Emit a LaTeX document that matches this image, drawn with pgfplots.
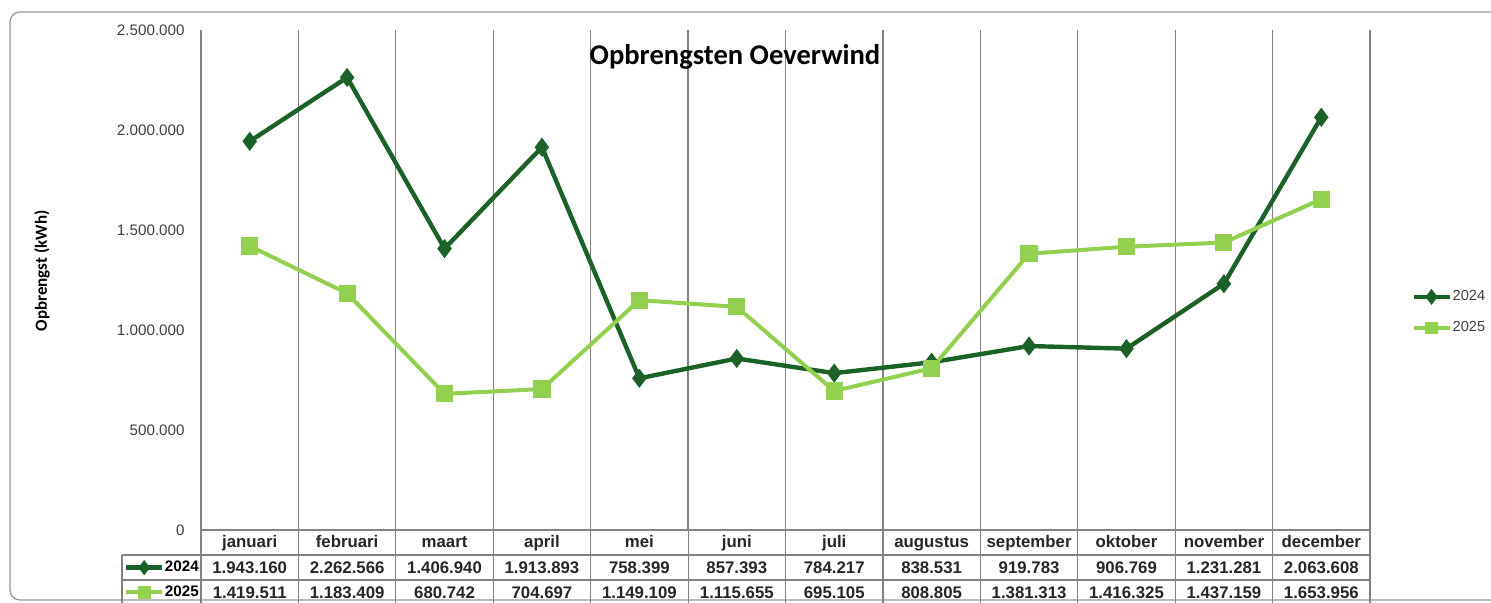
\documentclass[border=0pt]{standalone}
\usepackage{pgfplots}
\pgfplotsset{compat=1.18}
\usepackage{fontspec}
\setmainfont{Liberation Sans}
\newfontfamily\carlito{Carlito}

\definecolor{darkg}{RGB}{28,98,40}
\definecolor{lightg}{RGB}{146,208,80}
\definecolor{gridg}{RGB}{130,130,130}
\definecolor{txt}{RGB}{64,64,64}
\definecolor{framec}{RGB}{150,150,150}

\begin{document}
\begin{tikzpicture}[x=0.5pt,y=0.5pt]
\useasboundingbox (0,0) rectangle (1491,603);
\clip (0,0) rectangle (1491,603);
\draw[framec, line width=0.6pt, rounded corners=5pt] (10,3) rectangle (1530,591);

\begin{axis}[
  at={(100.5pt,36.5pt)}, anchor=south west,
  scale only axis, width=584.5pt, height=250pt,
  xmin=0, xmax=12, ymin=0, ymax=2500000,
  axis line style={draw=none},
  xtick={0,...,12}, xticklabels={},
  xmajorgrids, major grid style={gridg, line width=0.6pt},
  ytick={0,500000,1000000,1500000,2000000,2500000},
  yticklabels={0,500.000,1.000.000,1.500.000,2.000.000,2.500.000},
  scaled y ticks=false,
  major tick length=0pt,
  yticklabel style={font=\fontsize{7.6}{9}\selectfont, text=txt, inner sep=0pt, xshift=-8pt},
  clip=false,
  legend style={at={(1.035,0.435)}, anchor=west, draw=none, fill=none,
    font=\fontsize{7.3}{9}\selectfont, text=txt, inner sep=0pt,
    row sep=9pt, nodes={inner sep=0pt, inner xsep=0.5pt}},
  legend cell align=left,
  legend image code/.code={\draw[mark repeat=2, mark phase=2, #1, mark size=2.2pt] plot coordinates {(0pt,0pt) (9pt,0pt) (18pt,0pt)};},
]
\addplot[darkg, line width=2.2pt, mark=diamond*, mark size=3pt, mark options={solid}] coordinates {
(0.5,1943160) (1.5,2262566) (2.5,1406940) (3.5,1913893) (4.5,758399) (5.5,857393)
(6.5,784217) (7.5,838531) (8.5,919783) (9.5,906769) (10.5,1231281) (11.5,2063608)};
\addlegendentry{2024}
\addplot[lightg, line width=2pt, mark=square*, mark size=3.3pt, mark options={solid}] coordinates {
(0.5,1419511) (1.5,1183409) (2.5,680742) (3.5,704697) (4.5,1149109) (5.5,1115655)
(6.5,695105) (7.5,808805) (8.5,1381313) (9.5,1416325) (10.5,1437159) (11.5,1653956)};
\addlegendentry{2025}
\end{axis}

% small axis that holds the keys of the data table
\begin{axis}[
  at={(61pt,0pt)}, anchor=south west,
  scale only axis, width=39.5pt, height=24pt,
  xmin=0, xmax=1, ymin=0, ymax=1, hide axis,
  legend style={at={(0.02,0.48)}, anchor=west, draw=none, fill=none,
    font=\bfseries\fontsize{7.6}{9}\selectfont, inner sep=0pt,
    row sep=5.5pt, nodes={inner sep=0pt, inner xsep=0.3pt}},
  legend image code/.code={\draw[mark repeat=2, mark phase=2, #1] plot coordinates {(0pt,0pt) (9pt,0pt) (18pt,0pt)};},
]
\addlegendimage{darkg, line width=2.2pt, mark=diamond*, mark size=2pt}
\addlegendentry{2024}
\addlegendimage{lightg, line width=2pt, mark=square*, mark size=2.3pt}
\addlegendentry{2025}
\end{axis}

% data table grid
\foreach \i in {0,...,12} \draw[gridg, line width=0.6pt] ({201+97.42*\i},73) -- ({201+97.42*\i},-5);
\draw[gridg, line width=0.6pt] (201,73) -- (1370,73);
\draw[gridg, line width=0.6pt] (122,48) -- (1370,48);
\draw[gridg, line width=0.6pt] (122,23) -- (1370,23);
\draw[gridg, line width=0.6pt] (122,48) -- (122,-5);

\tikzset{cell/.style={font=\bfseries\fontsize{8.4}{9}\selectfont, text=black!85, anchor=base, inner sep=0pt}}
\foreach \m [count=\i from 0] in {januari,februari,maart,april,mei,juni,juli,augustus,september,oktober,november,december}
  \node[cell] at ({201+97.42*(\i+0.5)},55) {\m};
\foreach \v [count=\i from 0] in {1.943.160,2.262.566,1.406.940,1.913.893,758.399,857.393,784.217,838.531,919.783,906.769,1.231.281,2.063.608}
  \node[cell] at ({201+97.42*(\i+0.5)},29.5) {\v};
\foreach \v [count=\i from 0] in {1.419.511,1.183.409,680.742,704.697,1.149.109,1.115.655,695.105,808.805,1.381.313,1.416.325,1.437.159,1.653.956}
  \node[cell] at ({201+97.42*(\i+0.5)},4.5) {\v};

% title and y label
\node[font=\carlito\bfseries\fontsize{14.3}{16}\selectfont, anchor=base] at (735,538) {Opbrengsten Oeverwind};
\node[font=\carlito\bfseries\fontsize{8.5}{10}\selectfont, rotate=90] at (42,332) {Opbrengst (kWh)};
\end{tikzpicture}
\end{document}
